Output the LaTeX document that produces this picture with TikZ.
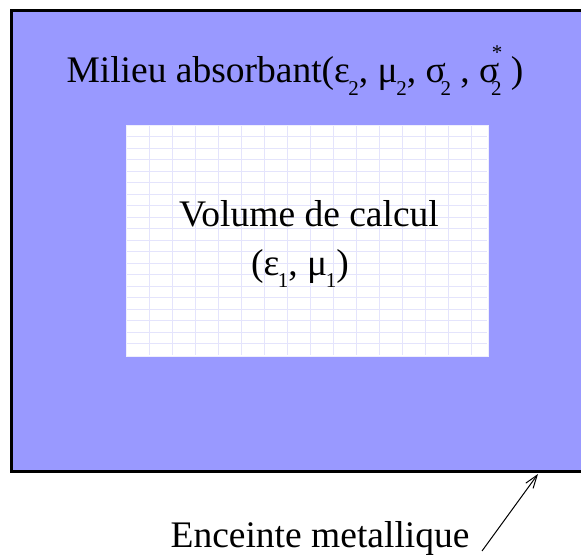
\documentclass[tikz,border=0pt]{standalone}
\usepackage{fontspec}
\setmainfont{Liberation Serif}
\usetikzlibrary{arrows.meta}
\definecolor{absorb}{RGB}{153,153,255}
\definecolor{gridc}{RGB}{228,228,252}
\newcommand{\mysub}[1]{\raisebox{-0.34em}{\fontsize{21}{21}\selectfont #1}}
\newcommand{\mystar}{\raisebox{0.62em}{\fontsize{21}{21}\selectfont *}}
\tikzset{
  bigtext/.style={font=\fontsize{37.5}{44}\selectfont, inner sep=0pt, anchor=base},
  enclosure/.style={draw=black, line width=3pt, fill=absorb, inner sep=0pt, outer sep=0pt, anchor=north west},
  calcbox/.style={draw=gridc!60, line width=0.8pt, fill=white, inner sep=0pt, outer sep=0pt, anchor=north west},
  gridline/.style={gridc, line width=0.9pt},
  pointer/.style={line width=1pt, -{Straight Barb[length=13pt,width=9pt,line width=1pt]}}
}
\begin{document}
\begin{tikzpicture}[x=1pt,y=-1pt]
\useasboundingbox[fill=white] (0,0) rectangle (581,556);
\begin{scope}
\clip (0,0) rectangle (581,556);
\node[enclosure, minimum width=600pt, minimum height=460.5pt] (outer) at (11.5,10.5) {};
\end{scope}
\node[calcbox, minimum width=362pt, minimum height=231pt] (inner) at (126,125) {};
\foreach \gx in {149,172,...,480} {\draw[gridline] (\gx,126) -- (\gx,355);}
\foreach \gy in {136.5,148,...,350} {\draw[gridline] (127,\gy) -- (487,\gy);}
\node[bigtext] (milieu) at (295,83) {Milieu absorbant(ε\kern-0.04em\mysub{2}, μ\kern-0.04em\mysub{2}, σ\kern-0.14em\mysub{2} , σ\kern-0.22em\rlap{\kern0.02em\mystar}\mysub{2} )};
\node[bigtext] (volume) at (309,226) {Volume de calcul};
\node[bigtext] (params) at (300,275) {(ε\kern-0.04em\mysub{1}, μ\kern-0.04em\mysub{1})};
\node[bigtext] (enceinte) at (320,547) {Enceinte metallique};
\coordinate (tail) at (482,551);
\coordinate (head) at (538,474);
\draw[pointer] (tail) -- (head);
\end{tikzpicture}
\end{document}
